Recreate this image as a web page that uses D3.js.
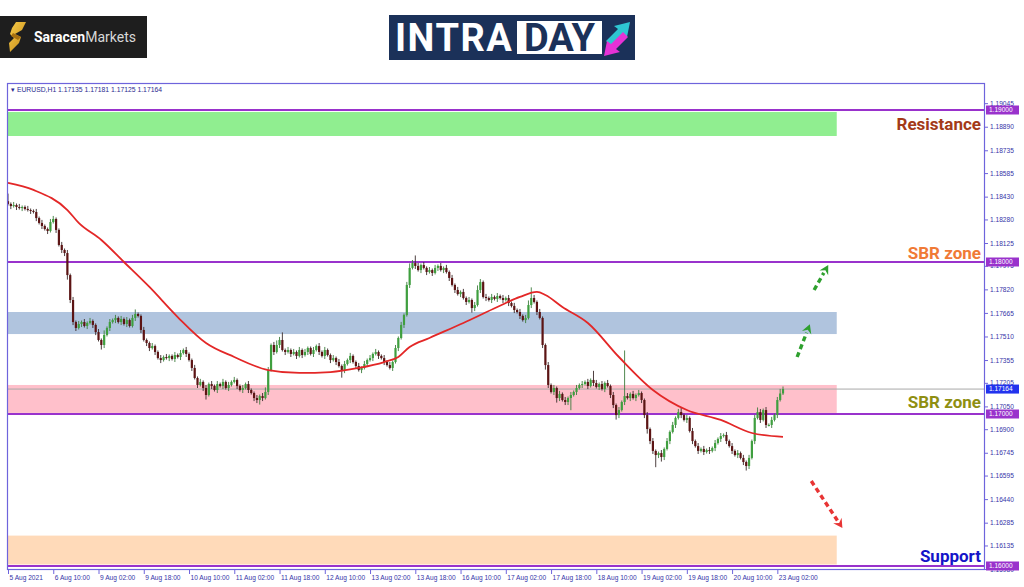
<!DOCTYPE html>
<html><head><meta charset="utf-8">
<script src="https://cdn.jsdelivr.net/npm/d3@7"></script>
<style>body{margin:0;background:#fff}svg{display:block}</style>
</head><body>
<svg id="c" width="1024" height="587"></svg>
<script>
// ---------- DATA ----------
const symbol = "EURUSD,H1";
const firstOpen = 1.18400;
const closes = [
1.18382,1.18368,1.18375,1.18362,1.18355,1.18362,1.18349,1.18342,1.18336,1.18329,
1.18289,1.18257,1.18237,1.18217,1.18204,1.18263,1.18283,1.18211,1.18112,1.18079,
1.18059,1.17914,1.17750,1.17605,1.17566,1.17592,1.17605,1.17579,1.17599,1.17612,
1.17586,1.17539,1.17487,1.17454,1.17520,1.17566,1.17605,1.17618,1.17632,1.17605,
1.17625,1.17592,1.17618,1.17579,1.17632,1.17658,1.17645,1.17553,1.17487,1.17467,
1.17434,1.17447,1.17408,1.17368,1.17355,1.17375,1.17368,1.17382,1.17362,1.17388,
1.17375,1.17401,1.17421,1.17395,1.17355,1.17303,1.17237,1.17191,1.17211,1.17171,
1.17125,1.17197,1.17184,1.17158,1.17197,1.17184,1.17211,1.17171,1.17191,1.17211,
1.17224,1.17184,1.17158,1.17171,1.17197,1.17158,1.17138,1.17105,1.17092,1.17118,
1.17105,1.17145,1.17289,1.17454,1.17408,1.17454,1.17487,1.17421,1.17408,1.17421,
1.17395,1.17408,1.17382,1.17421,1.17388,1.17408,1.17434,1.17395,1.17421,1.17447,
1.17408,1.17382,1.17421,1.17388,1.17355,1.17368,1.17342,1.17316,1.17289,1.17329,
1.17355,1.17382,1.17342,1.17316,1.17289,1.17303,1.17329,1.17355,1.17368,1.17395,
1.17408,1.17382,1.17368,1.17342,1.17322,1.17303,1.17342,1.17434,1.17500,1.17586,
1.17651,1.17849,1.17961,1.17993,1.17974,1.17947,1.17980,1.17961,1.17934,1.17947,
1.17928,1.17961,1.17974,1.17947,1.17961,1.17934,1.17895,1.17849,1.17816,1.17789,
1.17803,1.17763,1.17737,1.17750,1.17697,1.17717,1.17816,1.17868,1.17770,1.17763,
1.17750,1.17770,1.17757,1.17776,1.17763,1.17750,1.17763,1.17730,1.17711,1.17684,
1.17671,1.17645,1.17618,1.17632,1.17717,1.17763,1.17737,1.17671,1.17632,1.17454,
1.17322,1.17191,1.17145,1.17171,1.17105,1.17132,1.17092,1.17079,1.17105,1.17125,
1.17145,1.17171,1.17191,1.17197,1.17211,1.17184,1.17224,1.17204,1.17178,1.17197,
1.17164,1.17204,1.17184,1.17125,1.17059,1.16993,1.17026,1.17079,1.17118,1.17105,
1.17132,1.17105,1.17125,1.17138,1.17092,1.16993,1.16901,1.16822,1.16757,1.16730,
1.16743,1.16717,1.16770,1.16822,1.16882,1.16928,1.16974,1.17013,1.16993,1.16961,
1.16974,1.16888,1.16822,1.16789,1.16757,1.16770,1.16750,1.16763,1.16757,1.16776,
1.16809,1.16836,1.16855,1.16862,1.16822,1.16789,1.16757,1.16730,1.16743,1.16711,
1.16684,1.16658,1.16711,1.16822,1.16974,1.17013,1.16961,1.17026,1.16928,1.16928,
1.16961,1.16993,1.17092,1.17135,1.17164
];
// upper / lower wick length of each bar, in pips
const wickHi = [
5,1,2,1,2,1,1,2,1,1,2,1,2,1,1,2,2,1,1,2,1,2,1,2,1,
2,1,2,1,2,1,1,2,1,3,1,2,1,2,1,2,1,2,1,2,3,1,1,2,1,
1,2,1,1,2,1,2,1,1,2,1,2,1,2,1,1,2,1,2,1,2,1,2,1,2,
1,2,1,2,1,2,1,1,2,1,2,1,1,2,1,2,3,2,1,2,3,2,5,1,2,
1,2,1,2,1,2,1,1,2,1,2,1,2,1,1,2,1,2,1,2,1,2,1,1,2,
1,2,1,2,1,2,1,1,2,1,2,1,2,1,2,1,2,3,2,5,2,1,2,1,2,
1,2,1,2,1,2,1,2,1,2,1,2,1,2,1,2,3,2,1,2,1,2,1,2,1,
2,1,2,1,2,1,2,1,2,3,7,2,1,2,1,1,2,1,2,1,2,1,2,1,2,
1,2,1,2,1,2,1,6,2,1,2,1,2,1,2,1,2,1,30,2,1,2,1,2,1,
1,2,1,2,1,1,2,1,2,1,2,1,2,3,1,2,1,2,1,2,1,2,1,2,1,
2,1,2,1,2,1,2,1,2,1,2,1,2,1,2,3,2,1,2,1,2,1,2,3,1.7
];
const wickLo = [
1,2,1,2,1,2,1,1,2,1,2,1,2,1,2,1,1,2,1,2,2,3,2,2,2,
1,2,1,2,1,2,2,1,3,2,1,2,1,2,1,2,1,2,1,1,2,1,2,1,2,
2,1,2,1,2,1,1,2,1,2,1,2,1,2,1,2,1,2,1,2,3,1,2,1,2,
1,2,1,2,1,1,2,1,2,1,2,1,2,2,3,2,1,2,1,2,1,2,1,2,1,
2,1,2,1,2,1,2,1,2,1,2,1,2,1,2,1,2,1,5,2,1,2,1,2,1,
2,1,2,1,2,1,2,1,2,1,1,2,1,2,1,2,1,2,1,2,1,2,1,2,1,
2,1,2,1,2,1,2,1,2,1,2,1,2,1,3,2,1,2,1,2,1,2,1,2,1,
2,1,2,1,2,1,2,1,2,1,2,1,2,1,2,3,2,1,2,3,2,1,2,2,8,
1,2,1,2,1,2,1,2,1,2,1,2,1,2,2,3,2,1,2,1,2,1,2,1,2,
2,3,2,2,8,2,3,2,1,2,1,2,1,2,1,2,1,2,1,2,1,2,1,2,1,
2,1,2,1,2,1,2,1,2,1,2,3,2,1,2,1,2,1,2,1,2,1,2,1,1
];
// moving average (bar index -> value)
const maIdx = [0,9,21,25,33,41,50,60,70,80,92,103,114,124,133,138,142,149,161,173,181,187,190,196,205,216,228,240,252,263,274];
const maVal = [1.18520,1.18474,1.18342,1.18257,1.18145,1.18000,1.17836,1.17638,1.17467,1.17375,1.17289,1.17270,1.17276,1.17303,1.17342,1.17375,1.17441,1.17500,1.17599,1.17704,1.17770,1.17803,1.17783,1.17704,1.17599,1.17375,1.17158,1.17026,1.16961,1.16875,1.16849];

const xTickIdx = [0,16,32,48,64,80,96,112,128,144,160,176,192,208,224,240,256,272];
const xTickLabels = ["5 Aug 2021","6 Aug 10:00","9 Aug 02:00","9 Aug 18:00","10 Aug 10:00","11 Aug 02:00","11 Aug 18:00","12 Aug 10:00","13 Aug 02:00","13 Aug 18:00","16 Aug 10:00","17 Aug 02:00","17 Aug 18:00","18 Aug 10:00","19 Aug 02:00","19 Aug 18:00","20 Aug 10:00","23 Aug 02:00"];
const yTicks = [1.19045,1.18890,1.18735,1.18585,1.18430,1.18280,1.18125,1.17975,1.17820,1.17665,1.17510,1.17355,1.17205,1.17050,1.16900,1.16745,1.16595,1.16440,1.16285,1.16135,1.15980];

const levels = [1.19, 1.18, 1.17, 1.16];
const zoneNames = ["Resistance", "Upper SBR", "Lower SBR", "Support"];
const zoneFrom  = [1.18829, 1.17526, 1.17007, 1.16010];
const zoneTo    = [1.18987, 1.17671, 1.17191, 1.16200];
const zoneColor = ["#90ee90", "#b0c4de", "#ffc0cb", "#ffdab9"];
const zoneEndIdx = 293;

const labelText  = ["Resistance", "SBR zone", "SBR zone", "Support"];
const labelPrice = [1.18908, 1.18059, 1.17079, 1.16066];
const labelColor = ["#a33a18", "#f07a36", "#8f8f12", "#1414c8"];

// arrows: [fromIdx, fromPrice, toIdx, toPrice]
const arrowData = [[279,1.17375,283.5,1.17590],[285,1.17816,290,1.17980],[284,1.16559,295,1.16250]];
const arrowColor = ["#2ea02e","#2ea02e","#e83434"];

// ---------- BUILD ----------
const n = closes.length;
const bars = closes.map((c,i)=>{
  const o = i===0 ? firstOpen : closes[i-1];
  return {i, o, c, h: Math.max(o,c)+wickHi[i]*0.0001, l: Math.min(o,c)-wickLo[i]*0.0001};
});

const svg = d3.select("#c");
const L=7, T=83, R=985, B=570;
const x = d3.scaleLinear().domain([0, n-1]).range([8, 783]);
const y = d3.scaleLinear().domain([1.16, 1.19]).range([566, 110]);

const FRAME = "#6e64dc", TXT = "#3535a8", LEVEL = "#9932cc";
const AXFONT = "Liberation Sans, Arial, sans-serif";

// logos
const defs = svg.append("defs");
const lg = svg.append("g");
lg.append("rect").attr("x",0).attr("y",16).attr("width",147).attr("height",42).attr("fill","#1e1e1e");
const grad = defs.append("linearGradient").attr("id","gold").attr("x1",0).attr("y1",0).attr("x2",1).attr("y2",1);
grad.append("stop").attr("offset","0").attr("stop-color","#f8cc4a");
grad.append("stop").attr("offset","1").attr("stop-color","#c48a16");
lg.append("path").attr("d","M16,22 L26,22 L22,30 L15,34 L21,37 L19,43 L10,52 L9,43 L14,38 L10,34 L12,28 Z").attr("fill","url(#gold)");
lg.append("path").attr("d","M13,33 L21,37 L18,40 L11,36 Z").attr("fill","#a66f10");
const st = lg.append("text").attr("x",34).attr("y",42).attr("font-family","Roboto, sans-serif").attr("font-size",14).attr("fill","#fff");
st.append("tspan").attr("font-weight","bold").text("Saracen");
st.append("tspan").attr("fill","#d8d8d8").text("Markets");

lg.append("rect").attr("x",389).attr("y",15).attr("width",246).attr("height",45).attr("fill","#1b3159");
lg.append("text").attr("x",395).attr("y",51).attr("font-family","Roboto, sans-serif").attr("font-weight","bold")
  .attr("font-size",38).attr("letter-spacing",1.5).attr("fill","#fff").text("INTRA");
lg.append("rect").attr("x",517).attr("y",21).attr("width",85).attr("height",33).attr("fill","#fff");
lg.append("text").attr("x",559.5).attr("y",51).attr("text-anchor","middle").attr("font-family","Roboto, sans-serif").attr("font-weight","bold")
  .attr("font-size",38).attr("fill","#1b3159").text("DAY");
lg.append("path").attr("d","M606,41 L618,29 L614,26 L630,22 L627,37 L623,34 L611,46 Z").attr("fill","#2ec6d2");
lg.append("path").attr("d","M628,37 L616,49 L620,52 L604,56 L607,41 L611,44 L623,32 Z").attr("fill","#e632d6");

// clip for plot
defs.append("clipPath").attr("id","plot").append("rect").attr("x",L).attr("y",T).attr("width",R-L).attr("height",B-T);
const plot = svg.append("g").attr("clip-path","url(#plot)");

// zones
plot.selectAll("rect.zone").data(zoneFrom).join("rect").attr("class","zone")
  .attr("x", L).attr("width", x(zoneEndIdx)-L)
  .attr("y",(d,i)=>y(zoneTo[i])).attr("height",(d,i)=>y(zoneFrom[i])-y(zoneTo[i]))
  .attr("fill",(d,i)=>zoneColor[i]);

// current price line
const last = bars[n-1];
plot.append("line").attr("x1",L).attr("x2",R).attr("y1",y(last.c)).attr("y2",y(last.c)).attr("stroke","#a8a8a8").attr("stroke-width",1);

// level lines
plot.selectAll("line.lvl").data(levels).join("line").attr("class","lvl")
  .attr("x1",L).attr("x2",R).attr("y1",d=>y(d)).attr("y2",d=>y(d)).attr("stroke",LEVEL).attr("stroke-width",1.8);

// candles
const cg = plot.append("g");
cg.selectAll("line.w").data(bars).join("line").attr("class","w")
  .attr("x1",d=>x(d.i)).attr("x2",d=>x(d.i)).attr("y1",d=>y(d.h)).attr("y2",d=>y(d.l))
  .attr("stroke",d=>d.c>=d.o?"#3d7d3d":"#3a2a2a").attr("stroke-width",0.9);
cg.selectAll("rect.b").data(bars).join("rect").attr("class","b")
  .attr("x",d=>x(d.i)-1.1).attr("width",2.2)
  .attr("y",d=>y(Math.max(d.o,d.c))).attr("height",d=>Math.max(1,Math.abs(y(d.o)-y(d.c))))
  .attr("fill",d=>d.c>=d.o?"#3f9f3f":"#5c1414");

// moving average
plot.append("path").datum(maIdx.map((d,i)=>[d,maVal[i]]))
  .attr("d", d3.line().x(d=>x(d[0])).y(d=>y(d[1])).curve(d3.curveMonotoneX))
  .attr("fill","none").attr("stroke","#e32727").attr("stroke-width",1.8);

// arrows
arrowData.forEach((a,k)=>{
  const x1=x(a[0]), y1=y(a[1]), x2=x(a[2]), y2=y(a[3]);
  const ang=Math.atan2(y2-y1,x2-x1), hl=9, hw=5;
  const bx=x2-hl*Math.cos(ang), by=y2-hl*Math.sin(ang);
  plot.append("line").attr("x1",x1).attr("y1",y1).attr("x2",bx).attr("y2",by)
    .attr("stroke",arrowColor[k]).attr("stroke-width",3.4).attr("stroke-dasharray","5,3.5");
  const px=-Math.sin(ang), py=Math.cos(ang);
  plot.append("path").attr("d",`M${x2},${y2}L${bx+px*hw},${by+py*hw}L${bx+0.35*hl*Math.cos(ang)},${by+0.35*hl*Math.sin(ang)}L${bx-px*hw},${by-py*hw}Z`)
    .attr("fill",arrowColor[k]);
});

// zone labels
svg.selectAll("text.zl").data(labelText).join("text").attr("class","zl")
  .attr("x",981).attr("y",(d,i)=>y(labelPrice[i])).attr("dy","0.36em").attr("text-anchor","end")
  .attr("font-family","Roboto, sans-serif").attr("font-weight","bold").attr("font-size",17)
  .attr("fill",(d,i)=>labelColor[i]).text(d=>d);

// frame
svg.append("rect").attr("x",L+0.5).attr("y",T+0.5).attr("width",R-L-1).attr("height",B-T-1).attr("fill","none").attr("stroke",FRAME).attr("stroke-width",1.2);

// header
svg.append("text").attr("x",11).attr("y",91.5).attr("font-family",AXFONT).attr("font-size",6.8).attr("fill","#2a2a90")
  .text(`\u25BE ${symbol}  ${last.o.toFixed(5)} ${last.h.toFixed(5)} ${last.l.toFixed(5)} ${last.c.toFixed(5)}`);

// y axis
const ya = svg.append("g").attr("transform",`translate(${R},0)`)
  .call(d3.axisRight(y).tickValues(yTicks).tickSize(3).tickPadding(2).tickFormat(d=>d.toFixed(5)));
ya.select(".domain").remove();
ya.selectAll("line").attr("stroke",FRAME);
ya.selectAll("text").attr("font-family",AXFONT).attr("font-size",6.6).attr("fill",TXT);

// price boxes (drawn over the axis labels they cover)
const boxes = levels.map(v=>({v, col:LEVEL})).concat([{v:last.c, col:"#2233ee"}]);
const bxg = svg.selectAll("g.pb").data(boxes).join("g").attr("class","pb").attr("transform",d=>`translate(${R+1},${y(d.v)})`);
bxg.append("rect").attr("x",0).attr("y",-4.5).attr("width",33).attr("height",9).attr("fill",d=>d.col);
bxg.append("text").attr("x",3).attr("y",2.4).attr("font-family",AXFONT).attr("font-size",6.5).attr("fill","#fff").text(d=>d.v.toFixed(5));

// x axis
const xa = svg.append("g").attr("transform",`translate(0,${B})`)
  .call(d3.axisBottom(x).tickValues(xTickIdx).tickSize(4).tickPadding(1).tickFormat((d,i)=>xTickLabels[i]));
xa.select(".domain").remove();
xa.selectAll("line").attr("stroke",FRAME);
xa.selectAll("text").attr("text-anchor","start").attr("dx",1).attr("font-family",AXFONT).attr("font-size",6.6).attr("fill",TXT);
</script>
</body></html>
